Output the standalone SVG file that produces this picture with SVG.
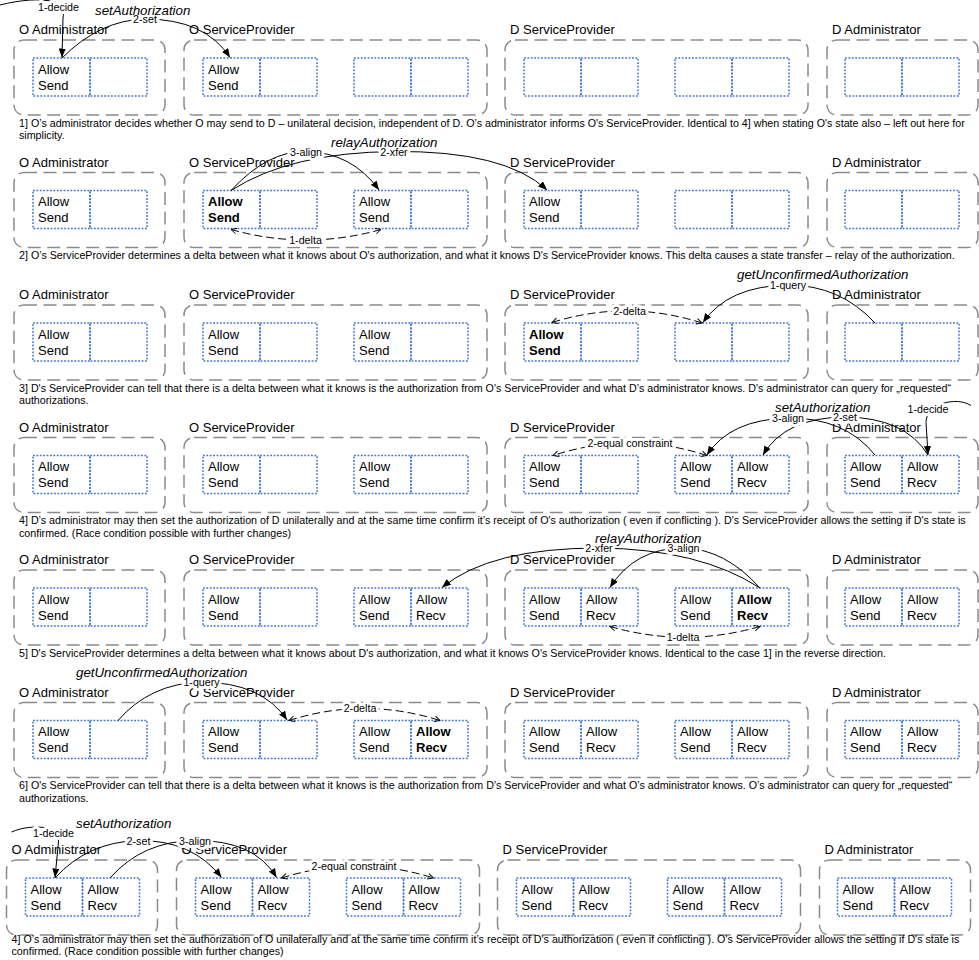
<svg xmlns="http://www.w3.org/2000/svg" width="979" height="960" viewBox="0 0 979 960">
<defs>
<style>
text{font-family:"Liberation Sans",Arial,sans-serif;fill:#000}
.lbl{font-size:13px}
.t{font-size:13px}
.b{font-weight:bold}
.cap{font-size:10.7px}
.cl{font-size:10.7px;text-anchor:middle;stroke:#fff;stroke-width:6;paint-order:stroke;stroke-linejoin:round}
.op{font-size:13.3px;font-style:italic}
.ctr{fill:none;stroke:#8a8a8a;stroke-width:1.5;stroke-dasharray:13 6.5}
.cell{fill:none;stroke:#3f72d2;stroke-width:1.5;stroke-dasharray:1.8 1.6}
.arr{fill:none;stroke:#000;stroke-width:1;marker-end:url(#ah)}
.dl{fill:none;stroke:#000;stroke-width:1;stroke-dasharray:8 4;marker-start:url(#oh);marker-end:url(#oh)}
</style>
<marker id="ah" viewBox="0 0 10 8" refX="10" refY="4" markerWidth="9" markerHeight="7.2" markerUnits="userSpaceOnUse" orient="auto"><path d="M0,0 L10,4 L0,8 Z" fill="#000"/></marker>
<marker id="oh" viewBox="0 0 10 10" refX="9" refY="5" markerWidth="7" markerHeight="7" markerUnits="userSpaceOnUse" orient="auto-start-reverse"><path d="M1,1 L9,5 L1,9" fill="none" stroke="#000" stroke-width="1.3"/></marker>
</defs>
<rect width="979" height="960" fill="#fff"/>

<!-- ROW 1 -->
<g id="row1">
 <g id="r1-oadmin"><text class="lbl" x="19" y="34">O Administrator</text><rect class="ctr" x="14" y="40" width="151" height="75" rx="10"/>
  <g id="r1-oadmin-s"><rect class="cell" x="33" y="58" width="57" height="38"/><rect class="cell" x="90" y="58" width="57" height="38"/><text class="t" x="38" y="73.5">Allow<tspan x="38" y="89.5">Send</tspan></text></g></g>
 <g id="r1-osp"><text class="lbl" x="189" y="34">O ServiceProvider</text><rect class="ctr" x="184" y="40" width="303" height="75" rx="10"/>
  <g id="r1-osp-a"><rect class="cell" x="203" y="58" width="57" height="38"/><rect class="cell" x="260" y="58" width="57" height="38"/><text class="t" x="208" y="73.5">Allow<tspan x="208" y="89.5">Send</tspan></text></g>
  <g id="r1-osp-b"><rect class="cell" x="354" y="58" width="57" height="38"/><rect class="cell" x="411" y="58" width="57" height="38"/></g></g>
 <g id="r1-dsp"><text class="lbl" x="510" y="34">D ServiceProvider</text><rect class="ctr" x="505" y="40" width="303" height="75" rx="10"/>
  <g id="r1-dsp-a"><rect class="cell" x="524" y="58" width="57" height="38"/><rect class="cell" x="581" y="58" width="57" height="38"/></g>
  <g id="r1-dsp-b"><rect class="cell" x="675" y="58" width="57" height="38"/><rect class="cell" x="732" y="58" width="57" height="38"/></g></g>
 <g id="r1-dadmin"><text class="lbl" x="832" y="34">D Administrator</text><rect class="ctr" x="827" y="40" width="151" height="75" rx="10"/>
  <g id="r1-dadmin-s"><rect class="cell" x="845" y="58" width="57" height="38"/><rect class="cell" x="902" y="58" width="57" height="38"/></g></g>
 <g id="r1-connectors">
  <path class="arr" d="M0,5 C20,0 40,-2 55,2 C64,5 64,12 63,18 L62,57.5"/>
  <path class="arr" d="M62,58 Q100,20 145,19 Q205,19 230,57.5"/>
  <text class="cl" x="58.5" y="11">1-decide</text>
  <text class="cl" x="145" y="23">2-set</text>
  <text class="op" x="95" y="15">setAuthorization</text>
 </g>
 <text class="cap" x="19" y="126.5">1] O’s administrator decides whether O may send to D – unilateral decision, independent of D. O’s administrator informs O's ServiceProvider. Identical to 4] when stating O's state also – left out here for</text>
 <text class="cap" x="19" y="139">simplicity.</text>
</g>

<!-- ROW 2 -->
<g id="row2" transform="translate(0,132.5)">
 <g id="r2-oadmin"><text class="lbl" x="19" y="34">O Administrator</text><rect class="ctr" x="14" y="40" width="151" height="75" rx="10"/>
  <g id="r2-oadmin-s"><rect class="cell" x="33" y="58" width="57" height="38"/><rect class="cell" x="90" y="58" width="57" height="38"/><text class="t" x="38" y="73.5">Allow<tspan x="38" y="89.5">Send</tspan></text></g></g>
 <g id="r2-osp"><text class="lbl" x="189" y="34">O ServiceProvider</text><rect class="ctr" x="184" y="40" width="303" height="75" rx="10"/>
  <g id="r2-osp-a"><rect class="cell" x="203" y="58" width="57" height="38"/><rect class="cell" x="260" y="58" width="57" height="38"/><text class="t b" x="208" y="73.5">Allow<tspan x="208" y="89.5">Send</tspan></text></g>
  <g id="r2-osp-b"><rect class="cell" x="354" y="58" width="57" height="38"/><rect class="cell" x="411" y="58" width="57" height="38"/><text class="t" x="359" y="73.5">Allow<tspan x="359" y="89.5">Send</tspan></text></g></g>
 <g id="r2-dsp"><text class="lbl" x="510" y="34">D ServiceProvider</text><rect class="ctr" x="505" y="40" width="303" height="75" rx="10"/>
  <g id="r2-dsp-a"><rect class="cell" x="524" y="58" width="57" height="38"/><rect class="cell" x="581" y="58" width="57" height="38"/><text class="t" x="529" y="73.5">Allow<tspan x="529" y="89.5">Send</tspan></text></g>
  <g id="r2-dsp-b"><rect class="cell" x="675" y="58" width="57" height="38"/><rect class="cell" x="732" y="58" width="57" height="38"/></g></g>
 <g id="r2-dadmin"><text class="lbl" x="832" y="34">D Administrator</text><rect class="ctr" x="827" y="40" width="151" height="75" rx="10"/>
  <g id="r2-dadmin-s"><rect class="cell" x="845" y="58" width="57" height="38"/><rect class="cell" x="902" y="58" width="57" height="38"/></g></g>
 <g id="r2-connectors">
  <path class="arr" d="M231,58 Q268,18 306,19 Q352,20 379,57.5"/>
  <path class="arr" d="M231,58 Q290,20 394,19 Q505,18 547,57.5"/>
  <path class="dl" d="M231,97 Q306,118 381,97"/>
  <text class="cl" x="306" y="23">3-align</text>
  <text class="cl" x="394" y="23">2-xfer</text>
  <text class="cl" x="305.5" y="111">1-delta</text>
  <text class="op" x="331" y="14">relayAuthorization</text>
 </g>
 <text class="cap" x="19" y="126.5">2] O’s ServiceProvider determines a delta between what it knows about O's authorization, and what it knows D's ServiceProvider knows. This delta causes a state transfer – relay of the authorization.</text>
</g>

<!-- ROW 3 -->
<g id="row3" transform="translate(0,265)">
 <g id="r3-oadmin"><text class="lbl" x="19" y="34">O Administrator</text><rect class="ctr" x="14" y="40" width="151" height="75" rx="10"/>
  <g id="r3-oadmin-s"><rect class="cell" x="33" y="58" width="57" height="38"/><rect class="cell" x="90" y="58" width="57" height="38"/><text class="t" x="38" y="73.5">Allow<tspan x="38" y="89.5">Send</tspan></text></g></g>
 <g id="r3-osp"><text class="lbl" x="189" y="34">O ServiceProvider</text><rect class="ctr" x="184" y="40" width="303" height="75" rx="10"/>
  <g id="r3-osp-a"><rect class="cell" x="203" y="58" width="57" height="38"/><rect class="cell" x="260" y="58" width="57" height="38"/><text class="t" x="208" y="73.5">Allow<tspan x="208" y="89.5">Send</tspan></text></g>
  <g id="r3-osp-b"><rect class="cell" x="354" y="58" width="57" height="38"/><rect class="cell" x="411" y="58" width="57" height="38"/><text class="t" x="359" y="73.5">Allow<tspan x="359" y="89.5">Send</tspan></text></g></g>
 <g id="r3-dsp"><text class="lbl" x="510" y="34">D ServiceProvider</text><rect class="ctr" x="505" y="40" width="303" height="75" rx="10"/>
  <g id="r3-dsp-a"><rect class="cell" x="524" y="58" width="57" height="38"/><rect class="cell" x="581" y="58" width="57" height="38"/><text class="t b" x="529" y="73.5">Allow<tspan x="529" y="89.5">Send</tspan></text></g>
  <g id="r3-dsp-b"><rect class="cell" x="675" y="58" width="57" height="38"/><rect class="cell" x="732" y="58" width="57" height="38"/></g></g>
 <g id="r3-dadmin"><text class="lbl" x="832" y="34">D Administrator</text><rect class="ctr" x="827" y="40" width="151" height="75" rx="10"/>
  <g id="r3-dadmin-s"><rect class="cell" x="845" y="58" width="57" height="38"/><rect class="cell" x="902" y="58" width="57" height="38"/></g></g>
 <g id="r3-connectors">
  <path class="arr" d="M875,58 Q840,20 788,20 Q728,21 703,57.5"/>
  <path class="dl" d="M702,58 Q627,34 552,57.5"/>
  <text class="cl" x="788" y="23.5">1-query</text>
  <text class="cl" x="629.5" y="49.5">2-delta</text>
  <text class="op" x="737" y="14">getUnconfirmedAuthorization</text>
 </g>
 <text class="cap" x="19" y="126.5">3] D's ServiceProvider can tell that there is a delta between what it knows is the authorization from O's ServiceProvider and what D’s administrator knows. D's administrator can query for „requested“</text>
 <text class="cap" x="19" y="139">authorizations.</text>
</g>

<!-- ROW 4 -->
<g id="row4" transform="translate(0,397.5)">
 <g id="r4-oadmin"><text class="lbl" x="19" y="34">O Administrator</text><rect class="ctr" x="14" y="40" width="151" height="75" rx="10"/>
  <g id="r4-oadmin-s"><rect class="cell" x="33" y="58" width="57" height="38"/><rect class="cell" x="90" y="58" width="57" height="38"/><text class="t" x="38" y="73.5">Allow<tspan x="38" y="89.5">Send</tspan></text></g></g>
 <g id="r4-osp"><text class="lbl" x="189" y="34">O ServiceProvider</text><rect class="ctr" x="184" y="40" width="303" height="75" rx="10"/>
  <g id="r4-osp-a"><rect class="cell" x="203" y="58" width="57" height="38"/><rect class="cell" x="260" y="58" width="57" height="38"/><text class="t" x="208" y="73.5">Allow<tspan x="208" y="89.5">Send</tspan></text></g>
  <g id="r4-osp-b"><rect class="cell" x="354" y="58" width="57" height="38"/><rect class="cell" x="411" y="58" width="57" height="38"/><text class="t" x="359" y="73.5">Allow<tspan x="359" y="89.5">Send</tspan></text></g></g>
 <g id="r4-dsp"><text class="lbl" x="510" y="34">D ServiceProvider</text><rect class="ctr" x="505" y="40" width="303" height="75" rx="10"/>
  <g id="r4-dsp-a"><rect class="cell" x="524" y="58" width="57" height="38"/><rect class="cell" x="581" y="58" width="57" height="38"/><text class="t" x="529" y="73.5">Allow<tspan x="529" y="89.5">Send</tspan></text></g>
  <g id="r4-dsp-b"><rect class="cell" x="675" y="58" width="57" height="38"/><rect class="cell" x="732" y="58" width="57" height="38"/><text class="t" x="680" y="73.5">Allow<tspan x="680" y="89.5">Send</tspan></text><text class="t" x="737" y="73.5">Allow<tspan x="737" y="89.5">Recv</tspan></text></g></g>
 <g id="r4-dadmin"><text class="lbl" x="832" y="34">D Administrator</text><rect class="ctr" x="827" y="40" width="151" height="75" rx="10"/>
  <g id="r4-dadmin-s"><rect class="cell" x="845" y="58" width="57" height="38"/><rect class="cell" x="902" y="58" width="57" height="38"/><text class="t" x="850" y="73.5">Allow<tspan x="850" y="89.5">Send</tspan></text><text class="t" x="907" y="73.5">Allow<tspan x="907" y="89.5">Recv</tspan></text></g></g>
 <g id="r4-connectors">
  <path class="arr" d="M971,8 C963,3 952,3 942,6 C931,10 926,17 926,25 L928,57.5"/>
  <path class="arr" d="M928,57.5 Q905,20 845,19.5 Q785,20 763,57.5"/>
  <path class="arr" d="M875,57.5 Q845,20 788,20.5 Q730,22 707,57.5"/>
  <path class="dl" d="M707,58 Q630,33 553,58"/>
  <text class="cl" x="928" y="15.5">1-decide</text>
  <text class="cl" x="845" y="23">2-set</text>
  <text class="cl" x="788" y="24">3-align</text>
  <text class="cl" x="630" y="49.5">2-equal constraint</text>
  <text class="op" x="775" y="14">setAuthorization</text>
 </g>
 <text class="cap" x="19" y="126.5">4] D’s administrator may then set the authorization of D unilaterally and at the same time confirm it’s receipt of O's authorization ( even if conflicting ). D's ServiceProvider allows the setting if D's state is</text>
 <text class="cap" x="19" y="139">confirmed. (Race condition possible with further changes)</text>
</g>

<!-- ROW 5 -->
<g id="row5" transform="translate(0,530)">
 <g id="r5-oadmin"><text class="lbl" x="19" y="34">O Administrator</text><rect class="ctr" x="14" y="40" width="151" height="75" rx="10"/>
  <g id="r5-oadmin-s"><rect class="cell" x="33" y="58" width="57" height="38"/><rect class="cell" x="90" y="58" width="57" height="38"/><text class="t" x="38" y="73.5">Allow<tspan x="38" y="89.5">Send</tspan></text></g></g>
 <g id="r5-osp"><text class="lbl" x="189" y="34">O ServiceProvider</text><rect class="ctr" x="184" y="40" width="303" height="75" rx="10"/>
  <g id="r5-osp-a"><rect class="cell" x="203" y="58" width="57" height="38"/><rect class="cell" x="260" y="58" width="57" height="38"/><text class="t" x="208" y="73.5">Allow<tspan x="208" y="89.5">Send</tspan></text></g>
  <g id="r5-osp-b"><rect class="cell" x="354" y="58" width="57" height="38"/><rect class="cell" x="411" y="58" width="57" height="38"/><text class="t" x="359" y="73.5">Allow<tspan x="359" y="89.5">Send</tspan></text><text class="t" x="416" y="73.5">Allow<tspan x="416" y="89.5">Recv</tspan></text></g></g>
 <g id="r5-dsp"><text class="lbl" x="510" y="34">D ServiceProvider</text><rect class="ctr" x="505" y="40" width="303" height="75" rx="10"/>
  <g id="r5-dsp-a"><rect class="cell" x="524" y="58" width="57" height="38"/><rect class="cell" x="581" y="58" width="57" height="38"/><text class="t" x="529" y="73.5">Allow<tspan x="529" y="89.5">Send</tspan></text><text class="t" x="586" y="73.5">Allow<tspan x="586" y="89.5">Recv</tspan></text></g>
  <g id="r5-dsp-b"><rect class="cell" x="675" y="58" width="57" height="38"/><rect class="cell" x="732" y="58" width="57" height="38"/><text class="t" x="680" y="73.5">Allow<tspan x="680" y="89.5">Send</tspan></text><text class="t b" x="737" y="73.5">Allow<tspan x="737" y="89.5">Recv</tspan></text></g></g>
 <g id="r5-dadmin"><text class="lbl" x="832" y="34">D Administrator</text><rect class="ctr" x="827" y="40" width="151" height="75" rx="10"/>
  <g id="r5-dadmin-s"><rect class="cell" x="845" y="58" width="57" height="38"/><rect class="cell" x="902" y="58" width="57" height="38"/><text class="t" x="850" y="73.5">Allow<tspan x="850" y="89.5">Send</tspan></text><text class="t" x="907" y="73.5">Allow<tspan x="907" y="89.5">Recv</tspan></text></g></g>
 <g id="r5-connectors">
  <path class="arr" d="M760,58 Q700,19 599,18 Q490,18 442,57.5"/>
  <path class="arr" d="M760,58 Q725,19 683.5,18 Q635,18 610,57.5"/>
  <path class="dl" d="M610,96.5 Q685,118 760,96.5"/>
  <text class="cl" x="599" y="22">2-xfer</text>
  <text class="cl" x="683.5" y="22">3-align</text>
  <text class="cl" x="683" y="110.5">1-delta</text>
  <text class="op" x="595" y="13">relayAuthorization</text>
 </g>
 <text class="cap" x="19" y="126.5">5] D's ServiceProvider determines a delta between what it knows about D's authorization, and what it knows O's ServiceProvider knows. Identical to the case 1] in the reverse direction.</text>
</g>

<!-- ROW 6 -->
<g id="row6" transform="translate(0,662.5)">
 <g id="r6-oadmin"><text class="lbl" x="19" y="34">O Administrator</text><rect class="ctr" x="14" y="40" width="151" height="75" rx="10"/>
  <g id="r6-oadmin-s"><rect class="cell" x="33" y="58" width="57" height="38"/><rect class="cell" x="90" y="58" width="57" height="38"/><text class="t" x="38" y="73.5">Allow<tspan x="38" y="89.5">Send</tspan></text></g></g>
 <g id="r6-osp"><text class="lbl" x="189" y="34">O ServiceProvider</text><rect class="ctr" x="184" y="40" width="303" height="75" rx="10"/>
  <g id="r6-osp-a"><rect class="cell" x="203" y="58" width="57" height="38"/><rect class="cell" x="260" y="58" width="57" height="38"/><text class="t" x="208" y="73.5">Allow<tspan x="208" y="89.5">Send</tspan></text></g>
  <g id="r6-osp-b"><rect class="cell" x="354" y="58" width="57" height="38"/><rect class="cell" x="411" y="58" width="57" height="38"/><text class="t" x="359" y="73.5">Allow<tspan x="359" y="89.5">Send</tspan></text><text class="t b" x="416" y="73.5">Allow<tspan x="416" y="89.5">Recv</tspan></text></g></g>
 <g id="r6-dsp"><text class="lbl" x="510" y="34">D ServiceProvider</text><rect class="ctr" x="505" y="40" width="303" height="75" rx="10"/>
  <g id="r6-dsp-a"><rect class="cell" x="524" y="58" width="57" height="38"/><rect class="cell" x="581" y="58" width="57" height="38"/><text class="t" x="529" y="73.5">Allow<tspan x="529" y="89.5">Send</tspan></text><text class="t" x="586" y="73.5">Allow<tspan x="586" y="89.5">Recv</tspan></text></g>
  <g id="r6-dsp-b"><rect class="cell" x="675" y="58" width="57" height="38"/><rect class="cell" x="732" y="58" width="57" height="38"/><text class="t" x="680" y="73.5">Allow<tspan x="680" y="89.5">Send</tspan></text><text class="t" x="737" y="73.5">Allow<tspan x="737" y="89.5">Recv</tspan></text></g></g>
 <g id="r6-dadmin"><text class="lbl" x="832" y="34">D Administrator</text><rect class="ctr" x="827" y="40" width="151" height="75" rx="10"/>
  <g id="r6-dadmin-s"><rect class="cell" x="845" y="58" width="57" height="38"/><rect class="cell" x="902" y="58" width="57" height="38"/><text class="t" x="850" y="73.5">Allow<tspan x="850" y="89.5">Send</tspan></text><text class="t" x="907" y="73.5">Allow<tspan x="907" y="89.5">Recv</tspan></text></g></g>
 <g id="r6-connectors">
  <path class="arr" d="M118,58 Q150,21 201.5,19.5 Q262,20 287,57.5"/>
  <path class="dl" d="M289,58 Q364,34 440,58"/>
  <text class="cl" x="201.5" y="23">1-query</text>
  <text class="cl" x="360" y="49.5">2-delta</text>
  <text class="op" x="76" y="14">getUnconfirmedAuthorization</text>
 </g>
 <text class="cap" x="19" y="126.5">6] O's ServiceProvider can tell that there is a delta between what it knows is the authorization from D's ServiceProvider and what O’s administrator knows. O’s administrator can query for „requested“</text>
 <text class="cap" x="19" y="139">authorizations.</text>
</g>

<!-- ROW 7 -->
<g id="row7" transform="translate(-7.5,820)">
 <g id="r7-oadmin"><text class="lbl" x="19" y="34">O Administrator</text><rect class="ctr" x="14" y="40" width="151" height="75" rx="10"/>
  <g id="r7-oadmin-s"><rect class="cell" x="33" y="58" width="57" height="38"/><rect class="cell" x="90" y="58" width="57" height="38"/><text class="t" x="38" y="73.5">Allow<tspan x="38" y="89.5">Send</tspan></text><text class="t" x="95" y="73.5">Allow<tspan x="95" y="89.5">Recv</tspan></text></g></g>
 <g id="r7-osp"><text class="lbl" x="189" y="34">O ServiceProvider</text><rect class="ctr" x="184" y="40" width="303" height="75" rx="10"/>
  <g id="r7-osp-a"><rect class="cell" x="203" y="58" width="57" height="38"/><rect class="cell" x="260" y="58" width="57" height="38"/><text class="t" x="208" y="73.5">Allow<tspan x="208" y="89.5">Send</tspan></text><text class="t" x="265" y="73.5">Allow<tspan x="265" y="89.5">Recv</tspan></text></g>
  <g id="r7-osp-b"><rect class="cell" x="354" y="58" width="57" height="38"/><rect class="cell" x="411" y="58" width="57" height="38"/><text class="t" x="359" y="73.5">Allow<tspan x="359" y="89.5">Send</tspan></text><text class="t" x="416" y="73.5">Allow<tspan x="416" y="89.5">Recv</tspan></text></g></g>
 <g id="r7-dsp"><text class="lbl" x="510" y="34">D ServiceProvider</text><rect class="ctr" x="505" y="40" width="303" height="75" rx="10"/>
  <g id="r7-dsp-a"><rect class="cell" x="524" y="58" width="57" height="38"/><rect class="cell" x="581" y="58" width="57" height="38"/><text class="t" x="529" y="73.5">Allow<tspan x="529" y="89.5">Send</tspan></text><text class="t" x="586" y="73.5">Allow<tspan x="586" y="89.5">Recv</tspan></text></g>
  <g id="r7-dsp-b"><rect class="cell" x="675" y="58" width="57" height="38"/><rect class="cell" x="732" y="58" width="57" height="38"/><text class="t" x="680" y="73.5">Allow<tspan x="680" y="89.5">Send</tspan></text><text class="t" x="737" y="73.5">Allow<tspan x="737" y="89.5">Recv</tspan></text></g></g>
 <g id="r7-dadmin"><text class="lbl" x="832" y="34">D Administrator</text><rect class="ctr" x="827" y="40" width="151" height="75" rx="10"/>
  <g id="r7-dadmin-s"><rect class="cell" x="845" y="58" width="57" height="38"/><rect class="cell" x="902" y="58" width="57" height="38"/><text class="t" x="850" y="73.5">Allow<tspan x="850" y="89.5">Send</tspan></text><text class="t" x="907" y="73.5">Allow<tspan x="907" y="89.5">Recv</tspan></text></g></g>
 <g id="r7-connectors">
  <path class="arr" d="M19,12 C30,7 45,6 55,8 C64,10 66,16 66,22 L62.5,57.5"/>
  <path class="arr" d="M62.5,58 Q95,22 146,20.5 Q200,20 229,57.5"/>
  <path class="arr" d="M117.5,58 Q150,21 202.5,20.5 Q262,20 284,57.5"/>
  <path class="dl" d="M289,58 Q365,34 441,58"/>
  <text class="cl" x="61" y="16.5">1-decide</text>
  <text class="cl" x="146" y="24.5">2-set</text>
  <text class="cl" x="202.5" y="24.5">3-align</text>
  <text class="cl" x="361.5" y="50">2-equal constraint</text>
  <text class="op" x="83.5" y="8">setAuthorization</text>
 </g>
 <text class="cap" x="19" y="122.5">4] O’s administrator may then set the authorization of O unilaterally and at the same time confirm it’s receipt of D's authorization ( even if conflicting ). O's ServiceProvider allows the setting if D's state is</text>
 <text class="cap" x="19" y="135">confirmed. (Race condition possible with further changes)</text>
</g>
</svg>
